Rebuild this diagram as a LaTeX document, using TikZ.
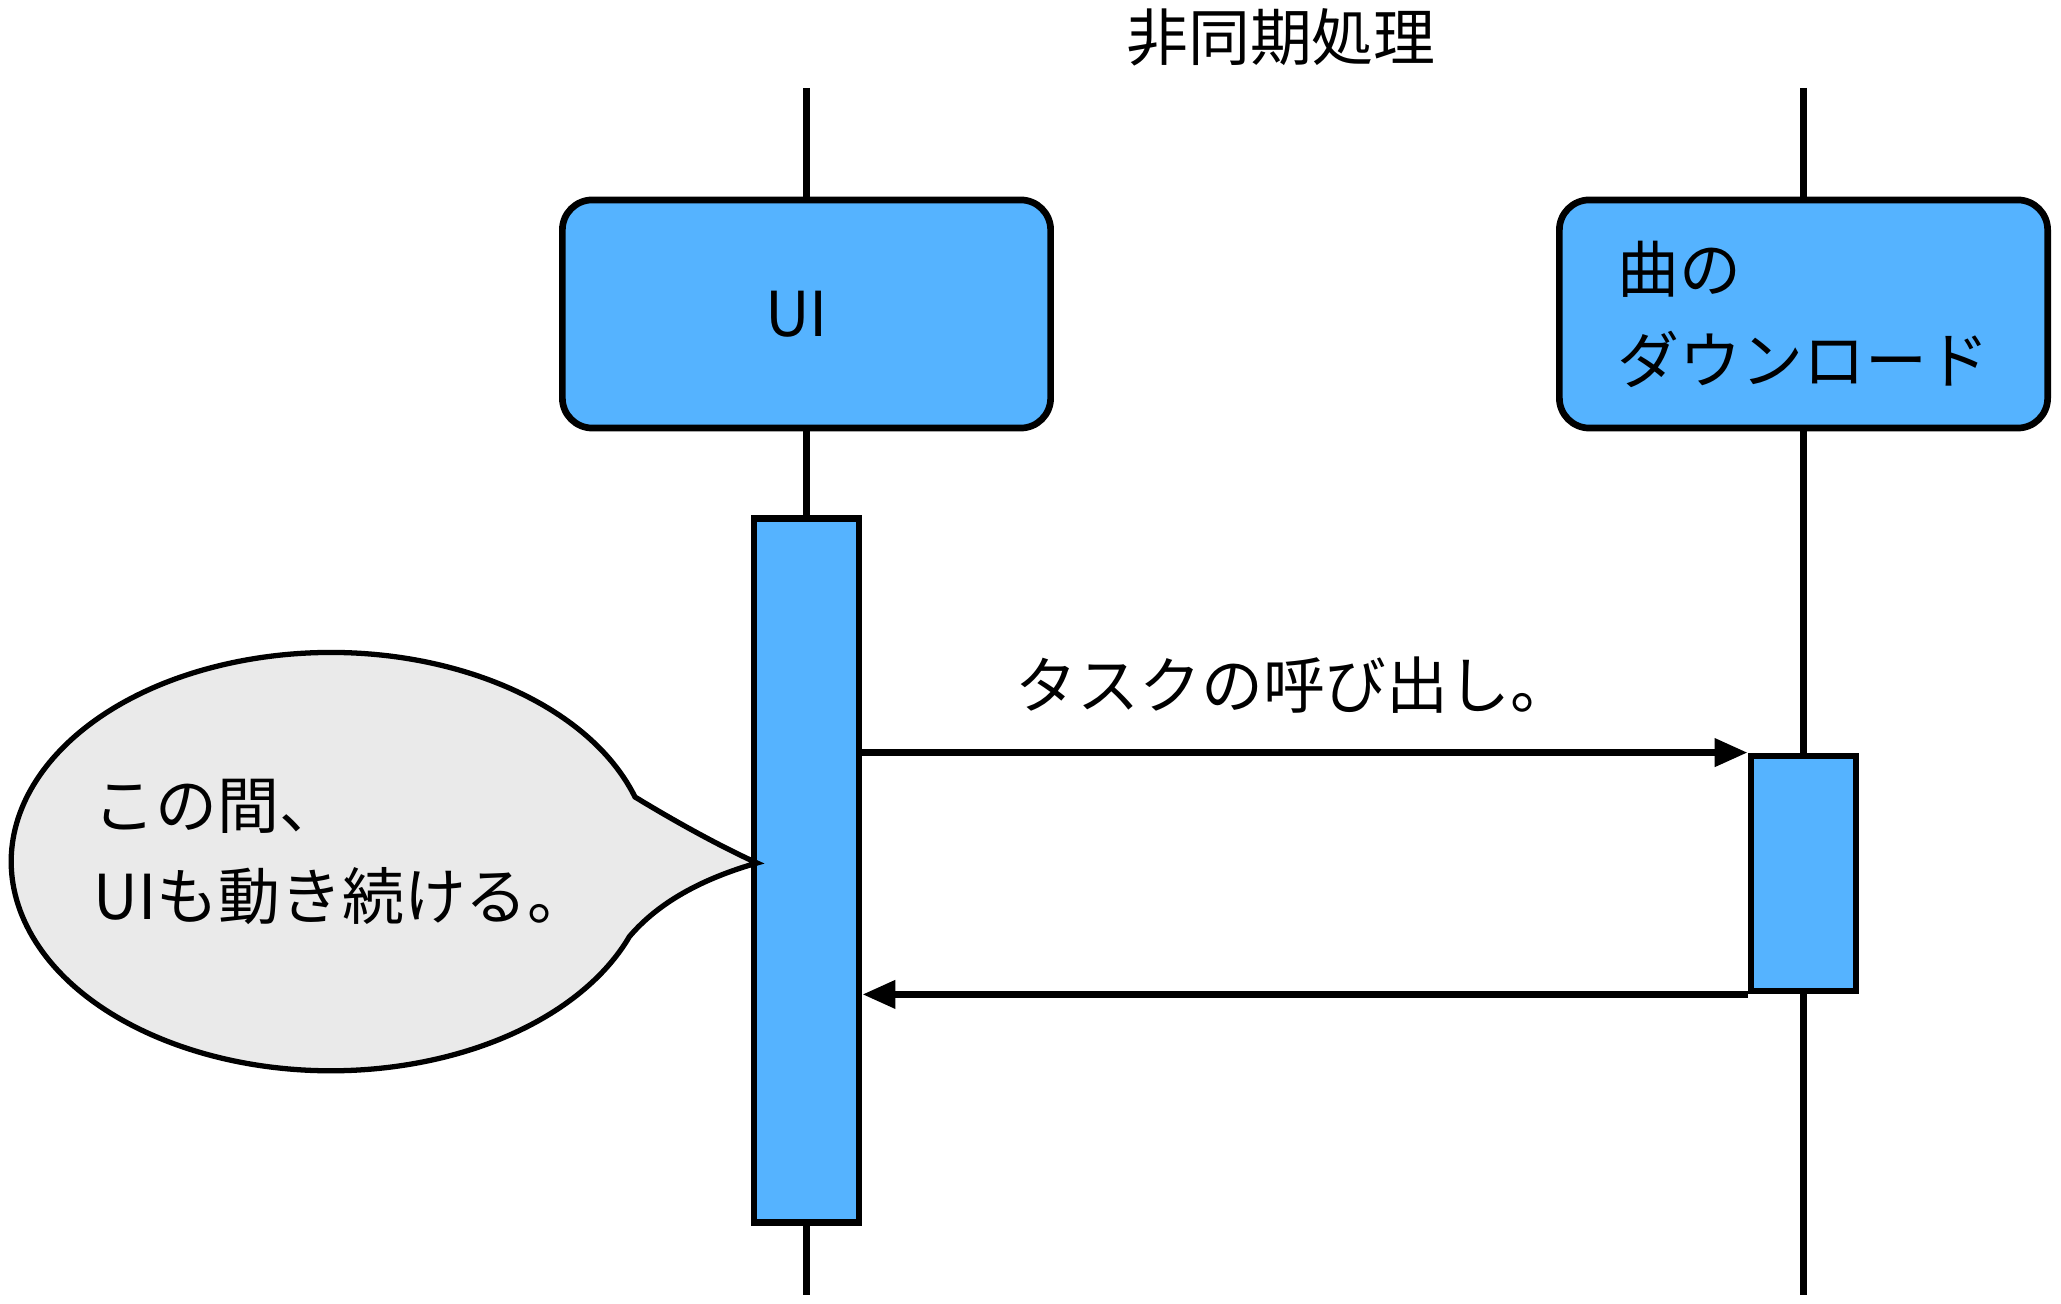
\documentclass[tikz,border=0pt]{standalone}
\usepackage{fontspec}
\setmainfont{Noto Sans CJK JP}
\usetikzlibrary{arrows.meta}
\definecolor{boxblue}{RGB}{85,179,255}
\definecolor{bubblegray}{RGB}{234,234,234}
\newcommand{\labelfont}{\fontsize{17.6pt}{25.9pt}\selectfont}

\begin{document}
\begin{tikzpicture}[x=0.01cm, y=-0.01cm]
        % Style definitions
        \tikzset{
            lifeline/.style={black, line width=2.2pt},
            actor/.style={draw=black, line width=1.9pt, fill=boxblue, rounded corners=0.3cm,
                minimum width=4.88cm, minimum height=2.28cm, font=\labelfont, align=left},
            activation/.style={draw=black, line width=1.9pt, fill=boxblue, minimum width=1.05cm, inner sep=0pt},
            msg/.style={black, line width=2pt, -{Triangle[length=0.33cm, width=0.27cm]}},
            bubble/.style={draw=black, line width=1.5pt, fill=bubblegray},
            txt/.style={font=\labelfont, inner sep=0pt}
        }
        \useasboundingbox (0,0) rectangle (2061,1304);

        % Title
        \node[txt] (title) at (1281,37) {非同期処理};

        % ==========================================
        % LIFELINES
        % ==========================================
        \coordinate (uitop) at (806.5,88);
        \coordinate (uibot) at (806.5,1295);
        \coordinate (dltop) at (1803.5,88);
        \coordinate (dlbot) at (1803.5,1295);
        \draw[lifeline] (uitop) -- (uibot);
        \draw[lifeline] (dltop) -- (dlbot);

        % Actor boxes
        \node[actor] (ui) at (806.5,314) {\hspace*{-0.2cm}UI};
        \node[actor] (dl) at (1803.5,314) {曲の\\ダウンロード};

        % Activation bars
        \node[activation, minimum height=7.03cm] (uibar) at (806.5,870.5) {};
        \node[activation, minimum height=2.35cm] (dlbar) at (1803.5,873.5) {};

        % ==========================================
        % MESSAGES
        % ==========================================
        \draw[msg] (uibar.east |- dlbar.north west) -- (dlbar.north west);
        \draw[msg] (dlbar.south west) -- (uibar.east |- dlbar.south west);
        \node[txt] (calllabel) at (1294,685) {タスクの呼び出し。};

        % Speech bubble
        \coordinate (tip) at (757,863);
        \draw[bubble] (635,797) arc[start angle=18, end angle=339, x radius=3.195cm, y radius=2.09cm]
            .. controls (658,903) and (701,879) .. (tip)
            .. controls (724,848) and (681,825) .. (635,797) -- cycle;
        \node[txt, anchor=west, align=left] (note) at (93,852) {この間、\\UIも動き続ける。};
\end{tikzpicture}
\end{document}
